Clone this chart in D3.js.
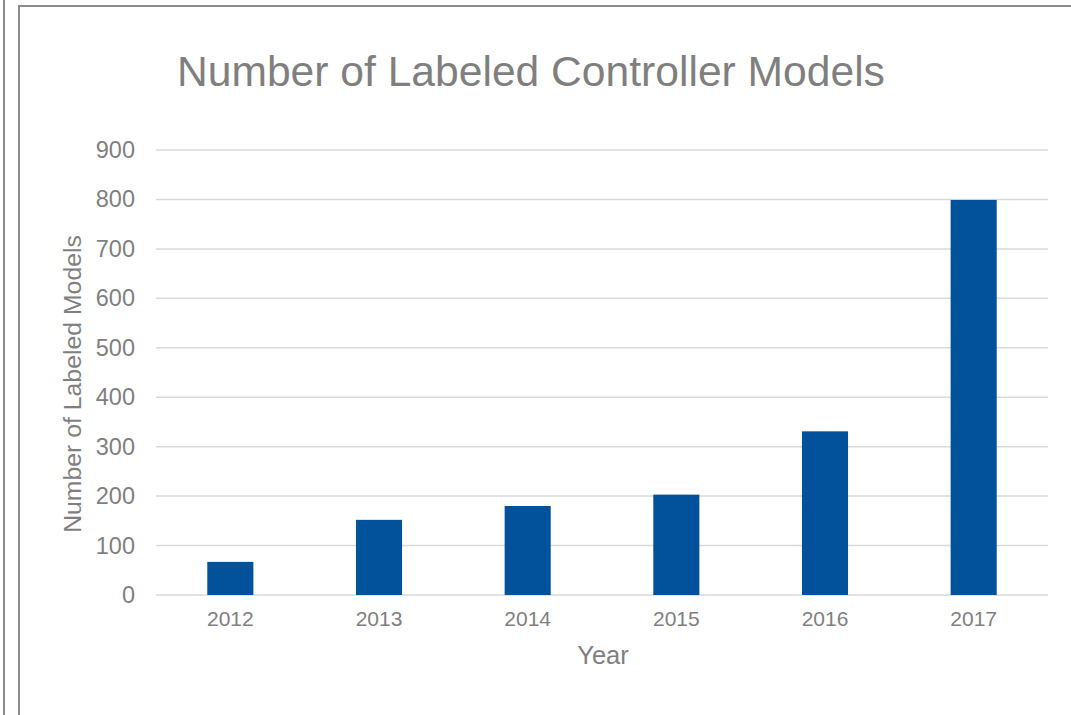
<!DOCTYPE html>
<meta charset="utf-8">
<title>Number of Labeled Controller Models</title>
<style>
body {
  margin: 0;
  background: #fff;
}
text {
  font-family: "Liberation Sans", Arial, sans-serif;
  fill: #7f7f7f;
}
</style>
<body>
<script src="https://d3js.org/d3.v7.min.js"></script>
<script>
var years = ["2012", "2013", "2014", "2015", "2016", "2017"],
    models = [67, 152, 180, 203, 331, 799],
    yTicks = [0, 100, 200, 300, 400, 500, 600, 700, 800, 900];

var w = 1071,
    h = 715,
    plotLeft = 156,
    plotRight = 1048,
    plotTop = 150,
    plotBottom = 595;

var svg = d3.select("body").append("svg")
    .attr("width", w)
    .attr("height", h);

// frame lines
svg.append("line")
    .attr("x1", 4).attr("x2", 4)
    .attr("y1", 0).attr("y2", h)
    .attr("stroke", "#8c8c8c")
    .attr("stroke-width", 2);
svg.append("path")
    .attr("d", "M19," + h + "V6H" + w)
    .attr("fill", "none")
    .attr("stroke", "#8c8c8c")
    .attr("stroke-width", 2);

var x = d3.scaleBand()
    .domain(years)
    .range([plotLeft, plotRight])
    .paddingInner(0.69)
    .paddingOuter(0.345);

var y = d3.scaleLinear()
    .domain([0, 900])
    .range([plotBottom, plotTop]);

// gridlines
svg.append("g")
  .selectAll("line")
    .data(yTicks)
  .enter().append("line")
    .attr("x1", plotLeft)
    .attr("x2", plotRight)
    .attr("y1", function(d) { return y(d); })
    .attr("y2", function(d) { return y(d); })
    .attr("stroke", "#d9d9d9")
    .attr("stroke-width", 1.5);

svg.append("g")
  .selectAll("rect")
    .data(models)
  .enter().append("rect")
    .attr("x", function(d, i) { return x(years[i]); })
    .attr("width", x.bandwidth())
    .attr("y", function(d) { return y(d); })
    .attr("height", function(d) { return y(0) - y(d); })
    .attr("fill", "#01529a");

// y axis
var yAxis = svg.append("g")
    .attr("transform", "translate(" + plotLeft + ",0)")
    .call(d3.axisLeft(y).tickValues(yTicks).tickSize(0).tickPadding(21));
yAxis.select(".domain").remove();
yAxis.selectAll("text")
    .style("font-size", "23.5px")
    .attr("fill", "#7f7f7f");

// x axis
var xAxis = svg.append("g")
    .attr("transform", "translate(0," + plotBottom + ")")
    .call(d3.axisBottom(x).tickSize(0).tickPadding(16));
xAxis.select(".domain").remove();
xAxis.selectAll("text")
    .style("font-size", "21px")
    .attr("fill", "#7f7f7f");

svg.append("text")
    .attr("x", 177)
    .attr("y", 86)
    .style("font-size", "42.6px")
    .text("Number of Labeled Controller Models");

svg.append("text")
    .attr("x", 603)
    .attr("y", 664)
    .attr("text-anchor", "middle")
    .style("font-size", "25.5px")
    .text("Year");

svg.append("text")
    .attr("transform", "translate(81,384)rotate(-90)")
    .attr("text-anchor", "middle")
    .style("font-size", "24.8px")
    .text("Number of Labeled Models");
</script>
